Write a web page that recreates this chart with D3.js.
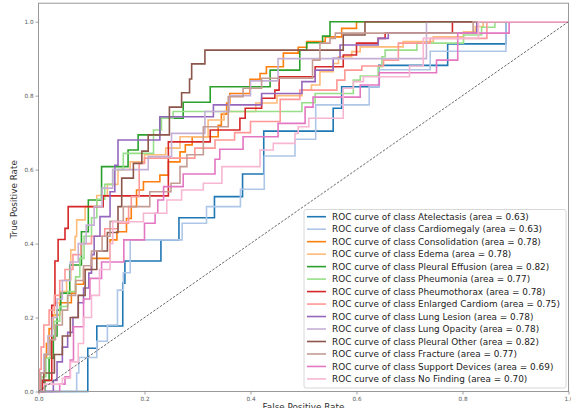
<!DOCTYPE html>
<html>
<head>
<meta charset="utf-8">
<script src="https://cdn.jsdelivr.net/npm/d3@7"></script>
<style>
body { margin: 0; background: #fff; }
svg { display: block; font-family: "DejaVu Sans", sans-serif; }
</style>
</head>
<body>
<svg id="chart"></svg>
<script>
// ROC steps per class: [fpr, tpr reached at that fpr]
const atelectasisRoc = [[0,0],[0.093,0.117],[0.110,0.177],[0.159,0.293],[0.163,0.353],[0.231,0.41],[0.265,0.47],[0.332,0.527],[0.385,0.588],[0.425,0.704],[0.556,0.766],[0.572,0.824],[0.642,0.882],[0.772,0.94],[0.882,1],[1,1]];
const cardiomegalyRoc = [[0,0],[0.072,0.05],[0.076,0.092],[0.11,0.136],[0.13,0.18],[0.149,0.274],[0.16,0.321],[0.173,0.41],[0.271,0.455],[0.317,0.5],[0.381,0.547],[0.426,0.637],[0.484,0.682],[0.523,0.775],[0.624,0.824],[0.642,0.87],[0.739,0.92],[0.882,1],[1,1]];
const consolidationRoc = [[0,0],[0.005,0.04],[0.01,0.09],[0.015,0.13],[0.02,0.17],[0.027,0.207],[0.04,0.24],[0.062,0.266],[0.07,0.29],[0.085,0.33],[0.1,0.36],[0.135,0.41],[0.148,0.432],[0.166,0.468],[0.175,0.5],[0.185,0.545],[0.198,0.567],[0.229,0.585],[0.245,0.621],[0.267,0.648],[0.277,0.667],[0.29,0.689],[0.339,0.72],[0.345,0.75],[0.355,0.78],[0.361,0.806],[0.399,0.844],[0.418,0.86],[0.43,0.878],[0.462,0.915],[0.49,0.931],[0.506,0.946],[0.541,0.959],[0.572,0.982],[0.6,1],[1,1]];
const edemaRoc = [[0,0],[0.004,0.05],[0.01,0.1],[0.018,0.15],[0.025,0.2],[0.03,0.24],[0.04,0.27],[0.053,0.302],[0.061,0.383],[0.069,0.419],[0.072,0.464],[0.088,0.5],[0.11,0.53],[0.13,0.56],[0.15,0.6],[0.173,0.621],[0.2,0.64],[0.24,0.658],[0.267,0.689],[0.32,0.734],[0.35,0.757],[0.41,0.78],[0.45,0.8],[0.497,0.815],[0.515,0.829],[0.531,0.865],[0.556,0.887],[0.566,0.905],[0.591,0.919],[0.607,0.932],[0.688,0.946],[0.745,0.959],[0.802,0.973],[0.824,0.987],[0.839,1],[1,1]];
const pleuralEffusionRoc = [[0,0],[0.012,0.03],[0.02,0.09],[0.028,0.15],[0.035,0.22],[0.042,0.266],[0.059,0.342],[0.081,0.432],[0.094,0.518],[0.119,0.608],[0.169,0.653],[0.188,0.694],[0.229,0.739],[0.273,0.782],[0.324,0.824],[0.437,0.869],[0.493,0.923],[0.506,0.943],[0.536,0.961],[0.55,1],[1,1]];
const pneumoniaRoc = [[0,0],[0.006,0.04],[0.014,0.09],[0.022,0.14],[0.03,0.19],[0.04,0.23],[0.055,0.27],[0.07,0.31],[0.078,0.36],[0.086,0.42],[0.1,0.47],[0.11,0.52],[0.125,0.56],[0.14,0.6],[0.16,0.644],[0.217,0.707],[0.232,0.739],[0.254,0.757],[0.497,0.781],[0.522,0.806],[0.594,0.842],[0.607,0.853],[0.641,0.878],[0.648,0.905],[0.654,0.923],[0.714,0.942],[0.802,0.964],[0.836,0.985],[0.861,1],[1,1]];
const pneumothoraxRoc = [[0,0],[0.007,0.03],[0.025,0.233],[0.031,0.353],[0.037,0.411],[0.05,0.441],[0.056,0.5],[0.122,0.529],[0.245,0.675],[0.324,0.707],[0.38,0.739],[0.39,0.766],[0.421,0.793],[0.446,0.815],[0.454,0.851],[0.522,0.878],[0.575,0.91],[0.6,0.942],[0.641,0.955],[0.654,0.969],[0.781,1],[1,1]];
const enlargedCardiomRoc = [[0,0],[0.002,0.06],[0.005,0.12],[0.01,0.18],[0.02,0.22],[0.03,0.26],[0.04,0.3],[0.05,0.33],[0.065,0.37],[0.08,0.4],[0.1,0.42],[0.125,0.44],[0.15,0.455],[0.17,0.5],[0.175,0.527],[0.19,0.617],[0.2,0.631],[0.295,0.658],[0.333,0.68],[0.37,0.7],[0.4,0.73],[0.456,0.79],[0.493,0.815],[0.563,0.842],[0.578,0.869],[0.61,0.88],[0.651,0.896],[0.679,0.942],[0.739,0.955],[0.846,1],[1,1]];
const lungLesionRoc = [[0,0],[0.028,0.03],[0.035,0.08],[0.045,0.12],[0.055,0.16],[0.065,0.2],[0.075,0.24],[0.085,0.28],[0.095,0.32],[0.1,0.37],[0.105,0.42],[0.116,0.473],[0.135,0.54],[0.144,0.612],[0.15,0.68],[0.229,0.743],[0.33,0.775],[0.421,0.806],[0.497,0.838],[0.522,0.869],[0.556,0.901],[0.569,0.937],[0.641,0.955],[0.66,0.969],[0.827,1],[1,1]];
const lungOpacityRoc = [[0,0],[0.004,0.05],[0.01,0.1],[0.018,0.15],[0.026,0.2],[0.035,0.25],[0.045,0.3],[0.06,0.35],[0.075,0.4],[0.09,0.45],[0.105,0.5],[0.12,0.55],[0.14,0.6],[0.207,0.635],[0.251,0.698],[0.314,0.757],[0.36,0.8],[0.4,0.84],[0.452,0.9],[0.732,1],[1,1]];
const pleuralOtherRoc = [[0,0],[0.01,0.05],[0.03,0.1],[0.045,0.15],[0.06,0.2],[0.075,0.26],[0.088,0.33],[0.11,0.38],[0.13,0.43],[0.15,0.5],[0.157,0.577],[0.179,0.617],[0.195,0.65],[0.207,0.694],[0.247,0.769],[0.27,0.808],[0.285,0.845],[0.289,0.886],[0.314,0.923],[0.575,0.964],[0.616,1],[1,1]];
const fractureRoc = [[0,0],[0.004,0.05],[0.012,0.1],[0.022,0.14],[0.032,0.18],[0.045,0.22],[0.055,0.26],[0.07,0.3],[0.085,0.34],[0.1,0.38],[0.12,0.42],[0.135,0.46],[0.16,0.5],[0.21,0.54],[0.25,0.563],[0.267,0.608],[0.28,0.64],[0.311,0.716],[0.358,0.797],[0.386,0.82],[0.421,0.847],[0.517,0.896],[0.531,0.942],[0.55,0.955],[0.56,0.969],[0.82,1],[1,1]];
const supportDevicesRoc = [[0,0],[0.04,0.02],[0.05,0.04],[0.06,0.085],[0.066,0.175],[0.085,0.25],[0.097,0.306],[0.119,0.35],[0.161,0.41],[0.2,0.455],[0.22,0.482],[0.225,0.518],[0.236,0.554],[0.273,0.588],[0.333,0.628],[0.342,0.655],[0.386,0.689],[0.452,0.725],[0.503,0.769],[0.518,0.796],[0.607,0.829],[0.643,0.862],[0.751,0.896],[0.791,0.969],[0.888,1],[1,1]];
const noFindingRoc = [[0,0],[0.01,0.02],[0.045,0.036],[0.06,0.08],[0.075,0.13],[0.085,0.2],[0.1,0.26],[0.115,0.33],[0.135,0.4],[0.14,0.459],[0.198,0.482],[0.242,0.518],[0.27,0.545],[0.311,0.563],[0.346,0.608],[0.418,0.653],[0.443,0.671],[0.484,0.698],[0.49,0.716],[0.51,0.739],[0.575,0.82],[0.594,0.838],[0.613,0.851],[0.70,0.88],[0.726,0.955],[0.83,1],[1,1]];

const classNames = ["Atelectasis", "Cardiomegaly", "Consolidation", "Edema", "Pleural Effusion",
  "Pheumonia", "Pheumothorax", "Enlarged Cardiom", "Lung Lesion", "Lung Opacity",
  "Pleural Other", "Fracture", "Support Devices", "No Finding"];
const aucScores = [0.63, 0.63, 0.78, 0.78, 0.82, 0.77, 0.78, 0.75, 0.78, 0.78, 0.82, 0.77, 0.69, 0.70];
const xTicks = [0, 0.2, 0.4, 0.6, 0.8, 1.0];
const yTicks = [0, 0.2, 0.4, 0.6, 0.8, 1.0];

const rocCurves = [atelectasisRoc, cardiomegalyRoc, consolidationRoc, edemaRoc, pleuralEffusionRoc,
  pneumoniaRoc, pneumothoraxRoc, enlargedCardiomRoc, lungLesionRoc, lungOpacityRoc,
  pleuralOtherRoc, fractureRoc, supportDevicesRoc, noFindingRoc];

// matplotlib tab20
const palette = ["#1f77b4", "#aec7e8", "#ff7f0e", "#ffbb78", "#2ca02c", "#98df8a", "#d62728",
  "#ff9896", "#9467bd", "#c5b0d5", "#8c564b", "#c49c94", "#e377c2", "#f7b6d2"];

const width = 571, height = 408;
const plotLeft = 38.5, plotRight = 568.5, plotTop = 3.2, plotBottom = 391.5;

const svg = d3.select("#chart").attr("width", width).attr("height", height);
svg.append("rect").attr("width", width).attr("height", height).attr("fill", "#fff");

const x = d3.scaleLinear().domain([0, 1]).range([plotLeft, plotRight]);
const y = d3.scaleLinear().domain([0, 1.05]).range([plotBottom, plotTop]);

const stepLine = d3.line()
  .x(d => x(d[0]))
  .y(d => y(d[1]))
  .curve(d3.curveStepAfter);
const straightLine = d3.line()
  .x(d => x(d[0]))
  .y(d => y(d[1]));

const plot = svg.append("g");
plot.selectAll("path.roc").data(rocCurves).enter().append("path")
  .attr("class", "roc")
  .attr("d", stepLine)
  .attr("fill", "none")
  .attr("stroke", (d, i) => palette[i])
  .attr("stroke-width", 1.6);

// chance line
plot.append("path")
  .attr("d", straightLine([[0, 0], [1, 1]]))
  .attr("fill", "none")
  .attr("stroke", "#444")
  .attr("stroke-width", 0.8)
  .attr("stroke-dasharray", "2.5,1.5");

// frame
svg.append("rect")
  .attr("x", plotLeft).attr("y", plotTop)
  .attr("width", plotRight - plotLeft).attr("height", plotBottom - plotTop)
  .attr("fill", "none").attr("stroke", "#999").attr("stroke-width", 1);

const fmt = d3.format(".1f");
const xAxis = svg.append("g")
  .attr("transform", "translate(0," + plotBottom + ")")
  .call(d3.axisBottom(x).tickValues(xTicks).tickFormat(fmt).tickSize(3).tickPadding(2));
const yAxis = svg.append("g")
  .attr("transform", "translate(" + plotLeft + ",0)")
  .call(d3.axisLeft(y).tickValues(yTicks).tickFormat(fmt).tickSize(3).tickPadding(2));
[xAxis, yAxis].forEach(a => {
  a.select(".domain").remove();
  a.selectAll(".tick line").attr("stroke", "#777").attr("stroke-width", 0.7);
  a.selectAll(".tick text").attr("fill", "#555").style("font-size", "5.7px").style("font-family", "DejaVu Sans");
});

svg.append("text")
  .attr("transform", "translate(17," + ((plotTop + plotBottom) / 2 + 2) + ") rotate(-90)")
  .attr("text-anchor", "middle")
  .attr("fill", "#333")
  .style("font-size", "8.8px")
  .text("True Positive Rate");

svg.append("text")
  .attr("x", (plotLeft + plotRight) / 2)
  .attr("y", 410)
  .attr("text-anchor", "middle")
  .attr("fill", "#333")
  .style("font-size", "8.8px")
  .text("False Positive Rate");

// legend
const legend = svg.append("g");
legend.append("rect")
  .attr("x", 304).attr("y", 209.5).attr("width", 262).attr("height", 178.5)
  .attr("rx", 2).attr("fill", "#fff").attr("fill-opacity", 0.85)
  .attr("stroke", "#d8d8d8").attr("stroke-width", 1);
const rows = legend.selectAll("g.row").data(classNames).enter().append("g")
  .attr("class", "row")
  .attr("transform", (d, i) => "translate(0," + (216.7 + i * 12.48) + ")");
rows.append("line")
  .attr("x1", 307).attr("x2", 326)
  .attr("stroke", (d, i) => palette[i]).attr("stroke-width", 1.6);
rows.append("text")
  .attr("x", 332).attr("dy", "0.35em")
  .attr("fill", "#222")
  .style("font-size", "8.9px")
  .text((d, i) => "ROC curve of class " + d + " (area = " + aucScores[i].toFixed(2) + ")");
</script>
</body>
</html>
